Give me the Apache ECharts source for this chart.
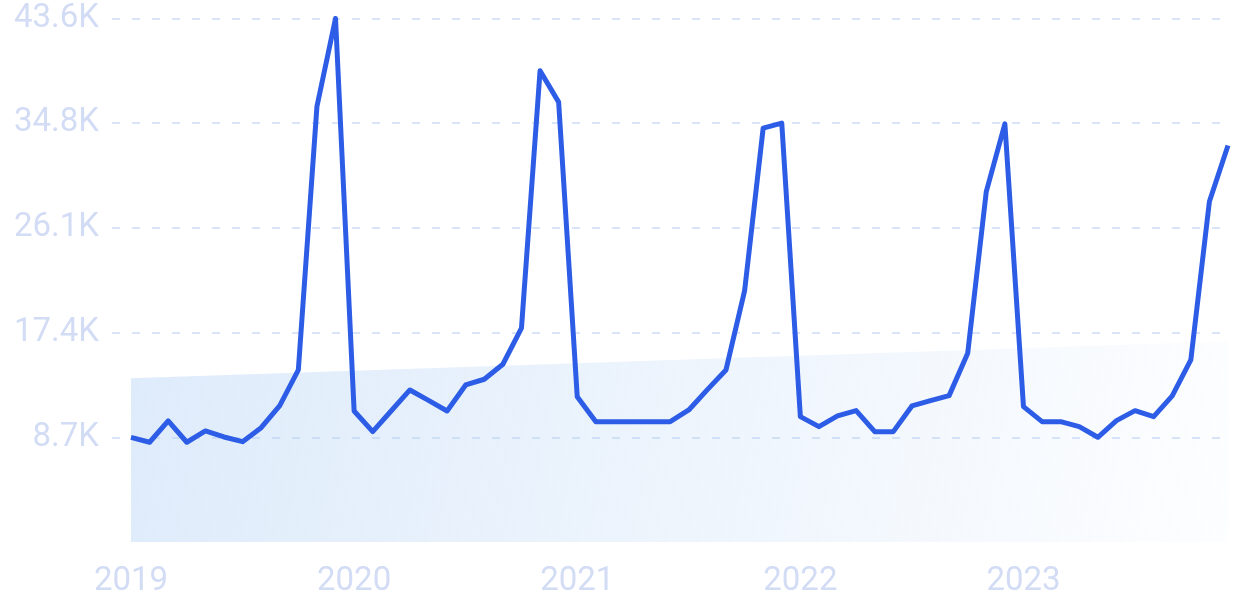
<!DOCTYPE html>
<html>
<head>
<meta charset="utf-8">
<script src="https://cdn.jsdelivr.net/npm/echarts@6/dist/echarts.min.js"></script>
<style>
html,body{margin:0;padding:0;background:#fff;}
#chart{width:1234px;height:616px;}
</style>
</head>
<body>
<div id="chart"></div>
<script>
// ---- data ----
var years = ['2019', '2020', '2021', '2022', '2023'];
var monthNums = ['01','02','03','04','05','06','07','08','09','10','11','12'];
var searches = [
  8700, 8300, 10070, 8300, 9240, 8740, 8350, 9510, 11345, 14317, 36235, 43560,
  10904, 9183, 10920, 12652, 11780, 10904, 13069, 13543, 14792, 17788, 39206, 36600,
  12095, 10014, 10014, 10014, 10014, 10014, 10988, 12677, 14317, 20893, 34436, 34852,
  10430, 9598, 10488, 10930, 9183, 9183, 11320, 11760, 12180, 15706, 29161, 34795,
  11265, 10014, 10014, 9598, 8713, 10100, 10930, 10430, 12153, 15150, 28330, 32990
];
var trendStart = 13630;
var trendEnd = 16710;
var yMax = 43560;
var yStep = 8712;

var months = [];
years.forEach(function (y) { monthNums.forEach(function (m) { months.push(y + '-' + m); }); });

var labelColor = '#d3dcf5';
var gridColor = '#d9e4f8';
var fontFam = 'Roboto, "Noto Sans", sans-serif';

var chart = echarts.init(document.getElementById('chart'), null, {renderer: 'canvas'});
chart.setOption({
  animation: false,
  grid: [
    {left: 112, right: 6, top: 18.5, bottom: 74},
    {left: 131, right: 6, top: 18.5, bottom: 74}
  ],
  xAxis: [
    {gridIndex: 0, type: 'value', show: false, min: 0, max: 1},
    {
      gridIndex: 1, type: 'category', data: months, boundaryGap: false,
      axisLine: {show: false}, axisTick: {show: false}, splitLine: {show: false},
      axisLabel: {
        interval: 11, margin: 23, color: labelColor, fontSize: 33,
        fontFamily: fontFam, fontWeight: 400,
        formatter: function (v) { return v.slice(0, 4); }
      }
    },
    {gridIndex: 1, type: 'value', show: false, min: 0, max: months.length - 1}
  ],
  yAxis: [
    {
      gridIndex: 0, type: 'value', min: 0, max: yMax, interval: yStep,
      axisLine: {show: false}, axisTick: {show: false},
      axisLabel: {
        margin: 13, color: labelColor, fontSize: 33, fontFamily: fontFam, fontWeight: 400,
        formatter: function (v) { return v === 0 ? '' : (v / 1000).toFixed(1) + 'K'; }
      },
      splitLine: {
        show: true,
        lineStyle: {
          color: ['rgba(0,0,0,0)', gridColor, gridColor, gridColor, gridColor, gridColor],
          width: 2, type: [8, 12]
        }
      }
    },
    {gridIndex: 1, type: 'value', show: false, min: 0, max: yMax}
  ],
  series: [
    {
      type: 'line', xAxisIndex: 2, yAxisIndex: 1,
      data: [[0, trendStart], [months.length - 1, trendEnd]],
      symbol: 'none', lineStyle: {width: 0, opacity: 0},
      areaStyle: {
        opacity: 1,
        color: new echarts.graphic.LinearGradient(0, 0, 1, 1, [
          {offset: 0, color: 'rgba(180,210,245,0.44)'},
          {offset: 1, color: 'rgba(180,210,245,0.03)'}
        ])
      },
      silent: true, z: 1
    },
    {
      type: 'line', xAxisIndex: 1, yAxisIndex: 1,
      data: searches, symbol: 'none',
      lineStyle: {width: 5, color: '#2d5de6', join: 'round'},
      z: 3
    }
  ]
});
</script>
</body>
</html>
